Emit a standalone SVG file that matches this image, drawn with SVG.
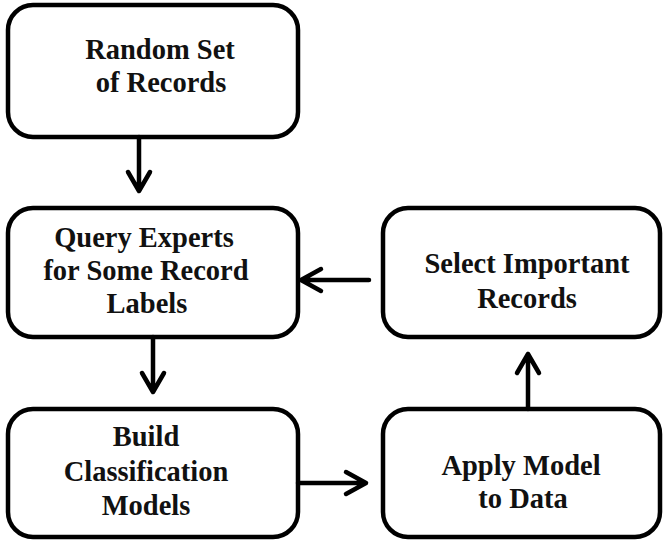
<svg xmlns="http://www.w3.org/2000/svg" width="664" height="540" viewBox="0 0 664 540">
<style>
.box{fill:#fff;stroke:#000;stroke-width:4.5}
.lbl{font-family:"Liberation Serif","Times New Roman",serif;font-weight:bold;font-size:28.5px;fill:#111;text-anchor:middle}
.con{fill:none;stroke:#000;stroke-width:4.5;stroke-linecap:round;stroke-linejoin:round}
</style>
<rect width="664" height="540" fill="#fff"/>
<g id="random-set">
<rect class="box" x="8" y="5" width="290" height="132" rx="25"/>
<text class="lbl" x="160" y="59">Random Set</text>
<text class="lbl" x="161" y="92">of Records</text>
</g>
<g id="query-experts">
<rect class="box" x="8" y="208" width="290" height="129" rx="25"/>
<text class="lbl" x="144" y="247">Query Experts</text>
<text class="lbl" x="146" y="280">for Some Record</text>
<text class="lbl" x="147" y="313">Labels</text>
</g>
<g id="build-models">
<rect class="box" x="8" y="409" width="290" height="128" rx="25"/>
<text class="lbl" x="146" y="446">Build</text>
<text class="lbl" x="146" y="481">Classification</text>
<text class="lbl" x="146" y="515">Models</text>
</g>
<g id="apply-model">
<rect class="box" x="383" y="409" width="277" height="128" rx="25"/>
<text class="lbl" x="521" y="475">Apply Model</text>
<text class="lbl" x="523" y="508">to Data</text>
</g>
<g id="select-records">
<rect class="box" x="383" y="208" width="277" height="129" rx="25"/>
<text class="lbl" x="527" y="273">Select Important</text>
<text class="lbl" x="527" y="308">Records</text>
</g>
<g id="connectors">
<path class="con" d="M139 137 V191 M128 172 L139 191 L150 172"/>
<path class="con" d="M153 337 V392 M142 373 L153 392 L164 373"/>
<path class="con" d="M298 483 H366 M346 472 L366 483 L346 494"/>
<path class="con" d="M528 409 V354 M517 373 L528 354 L539 373"/>
<path class="con" d="M369 280 H301 M321 269 L301 280 L321 291"/>
</g>
</svg>
